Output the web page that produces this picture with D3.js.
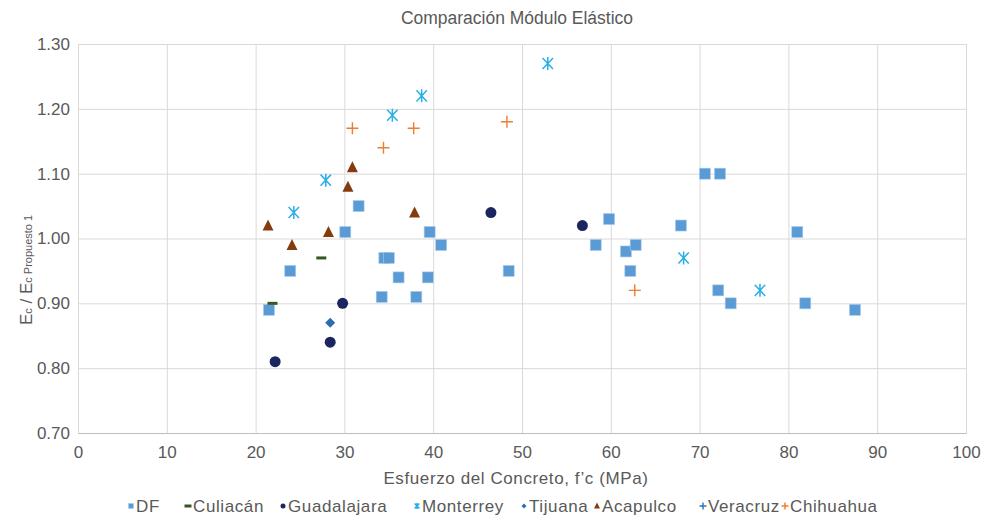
<!DOCTYPE html>
<html><head><meta charset="utf-8">
<script src="https://cdn.jsdelivr.net/npm/d3@7/dist/d3.min.js"></script>
<style>
body{margin:0;background:#fff;}
svg{display:block;}
.narrow{font-family:"Liberation Sans Narrow","Liberation Sans",Arial,sans-serif;}
.reg{font-family:"Liberation Sans",Arial,sans-serif;}
</style></head>
<body><svg id="c" width="984" height="518"></svg>
<script>
const xTicks = [0,10,20,30,40,50,60,70,80,90,100];
const yTicks = [0.70,0.80,0.90,1.00,1.10,1.20,1.30];
const seriesNames = ["DF","Culiacán","Guadalajara","Monterrey","Tijuana","Acapulco","Veracruz","Chihuahua"];
const seriesColors = ["#5B9BD5","#375623","#1B2660","#2AAEE6","#2E6DB4","#843C0C","#2E75B6","#ED7D31"];
const seriesShapes = ["square","dash","circle","asterisk","diamond","triangle","plus","plus"];

const dfX = [21.5,23.9,30.1,31.6,34.5,35.0,36.1,34.2,38.1,39.4,39.6,40.9,48.5,58.3,59.8,61.7,62.2,62.8,67.9,70.6,72.3,72.1,73.5,81.0,81.9,87.5];
const dfY = [0.89,0.95,1.01,1.05,0.97,0.97,0.94,0.91,0.91,0.94,1.01,0.99,0.95,0.99,1.03,0.98,0.95,0.99,1.02,1.10,1.10,0.92,0.90,1.01,0.90,0.89];
const culiacanX = [21.9,27.4];
const culiacanY = [0.90,0.97];
const guadalajaraX = [22.2,28.4,29.8,46.5,56.8];
const guadalajaraY = [0.81,0.84,0.90,1.04,1.02];
const monterreyX = [24.3,27.9,35.4,38.7,52.9,68.2,76.8];
const monterreyY = [1.04,1.09,1.19,1.22,1.27,0.97,0.92];
const tijuanaX = [28.4];
const tijuanaY = [0.87];
const acapulcoX = [21.4,24.1,28.2,30.4,30.9,37.9];
const acapulcoY = [1.02,0.99,1.01,1.08,1.11,1.04];
const veracruzX = [];
const veracruzY = [];
const chihuahuaX = [30.9,34.4,37.8,48.3,62.7];
const chihuahuaY = [1.17,1.14,1.17,1.18,0.92];

const allX = [dfX,culiacanX,guadalajaraX,monterreyX,tijuanaX,acapulcoX,veracruzX,chihuahuaX];
const allY = [dfY,culiacanY,guadalajaraY,monterreyY,tijuanaY,acapulcoY,veracruzY,chihuahuaY];

const svg = d3.select("#c");
const L=78, R=966, T=44, B=433;
const x = d3.scaleLinear().domain([0,100]).range([L,R]);
const y = d3.scaleLinear().domain([0.70,1.30]).range([B,T]);

// title
svg.append("text").attr("class","narrow").attr("x",517).attr("y",24).attr("text-anchor","middle")
  .attr("font-size",18).attr("fill","#595959").attr("textLength",232).attr("lengthAdjust","spacingAndGlyphs")
  .text("Comparación Módulo Elástico");

// gridlines
const gx = svg.append("g").attr("transform",`translate(0,${B})`)
  .call(d3.axisBottom(x).tickValues(xTicks).tickSize(-(B-T)).tickFormat(d=>d).tickPadding(10));
gx.select(".domain").attr("stroke","#BFBFBF");
gx.selectAll(".tick line").attr("stroke","#D9D9D9");
gx.selectAll(".tick text").attr("class","narrow").attr("font-size",17).attr("fill","#595959").attr("dy","0.9em");

const gy = svg.append("g").attr("transform",`translate(${L},0)`)
  .call(d3.axisLeft(y).tickValues(yTicks).tickSize(-(R-L)).tickFormat(d3.format(".2f")).tickPadding(8));
gy.select(".domain").remove();
gy.selectAll(".tick line").attr("stroke","#D9D9D9");
gy.selectAll(".tick text").attr("class","narrow").attr("font-size",17).attr("fill","#595959");
gx.raise();

// x axis title
svg.append("text").attr("class","reg").attr("x",516).attr("y",484).attr("text-anchor","middle")
  .attr("font-size",17).attr("letter-spacing",0.6).attr("fill","#595959").text("Esfuerzo del Concreto, f’c (MPa)");

// y axis title
const yt = svg.append("text").attr("class","narrow").attr("transform","translate(32,270) rotate(-90)")
  .attr("text-anchor","middle").attr("fill","#595959").attr("font-size",17);
yt.append("tspan").text("E");
yt.append("tspan").attr("font-size",11).text("c");
yt.append("tspan").text(" / E");
yt.append("tspan").attr("font-size",11).text("c Propuesto 1");

function drawMarker(g, shape, color, s){
  if(shape==="square"){
    g.append("rect").attr("x",-s/2).attr("y",-s/2).attr("width",s).attr("height",s).attr("fill",color)
      .attr("stroke","#A9CCEB").attr("stroke-width",0.6);
  } else if(shape==="circle"){
    g.append("circle").attr("r",s/2).attr("fill",color);
  } else if(shape==="dash"){
    g.append("rect").attr("x",-s/2).attr("y",-1.5).attr("width",s).attr("height",3).attr("fill",color);
  } else if(shape==="diamond"){
    const a=s/2;
    g.append("path").attr("d",`M0,${-a}L${a},0L0,${a}L${-a},0Z`).attr("fill",color);
  } else if(shape==="triangle"){
    const h=s;
    g.append("path").attr("d",`M0,${-h/2-1}L${h/2+0.5},${h/2}L${-h/2-0.5},${h/2}Z`).attr("fill",color);
  } else if(shape==="plus"){
    g.append("path").attr("d",`M${-s/2},0H${s/2}M0,${-s/2}V${s/2}`).attr("stroke",color).attr("stroke-width",1.4);
  } else if(shape==="asterisk"){
    const a=s/2, b=a*0.8;
    g.append("path").attr("d",`M0,${-a}V${a}M${-b},${-a*0.85}L${b},${a*0.85}M${-b},${a*0.85}L${b},${-a*0.85}`)
      .attr("stroke",color).attr("stroke-width",1.5);
  }
}
const sizes = {square:11,circle:11,dash:10,diamond:10,triangle:10,plus:12,asterisk:13};
allX.forEach((xs,i)=>{
  const ys=allY[i];
  const g=svg.append("g");
  xs.forEach((xv,j)=>{
    const m=g.append("g").attr("transform",`translate(${x(xv)},${y(ys[j])})`);
    drawMarker(m, seriesShapes[i], seriesColors[i], sizes[seriesShapes[i]]);
  });
});

// legend
const legX = [131,188,283,417,524,597,703,785];
const lg = svg.append("g");
seriesNames.forEach((n,i)=>{
  const m=lg.append("g").attr("transform",`translate(${legX[i]},506)`);
  const sh=seriesShapes[i];
  drawMarker(m, sh, seriesColors[i], sh==="dash"?7:(sh==="asterisk"?6:(sh==="plus"?7:5)));
  lg.append("text").attr("class","reg").attr("x",legX[i]+5).attr("y",512).attr("font-size",17)
    .attr("letter-spacing",0.6).attr("fill","#595959").text(n);
});
</script></body></html>
